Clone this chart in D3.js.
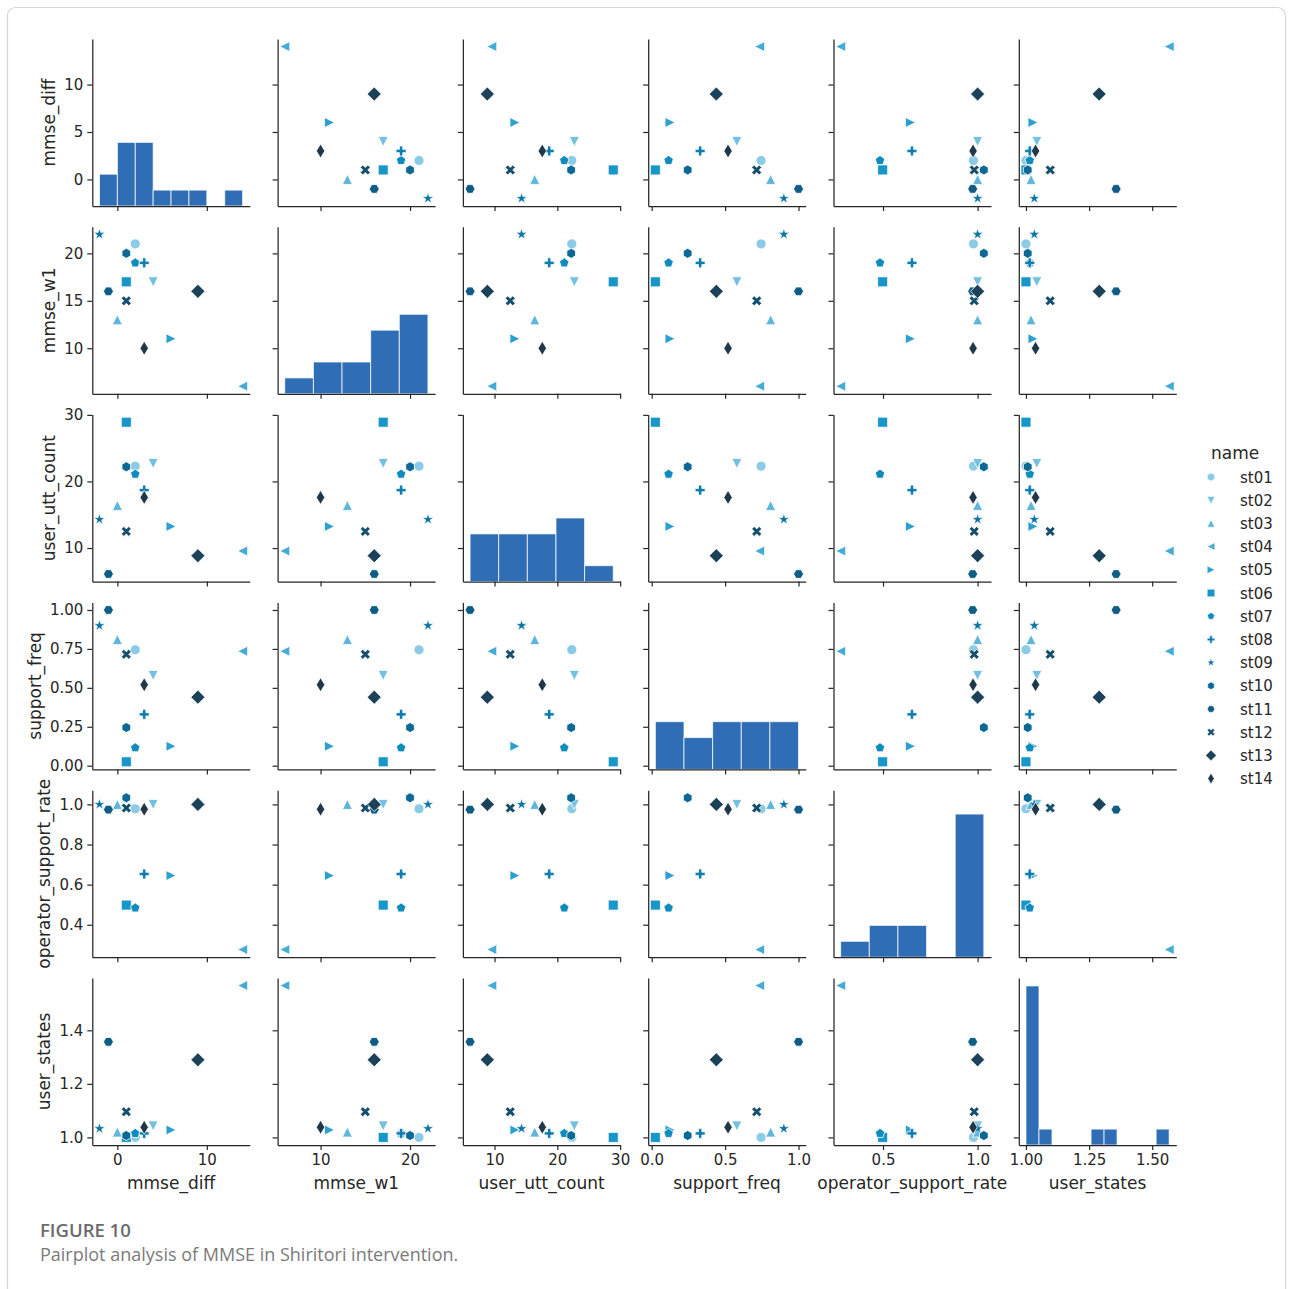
<!DOCTYPE html>
<html>
<head>
<meta charset="utf-8">
<script src="https://cdn.jsdelivr.net/npm/d3@7"></script>
<style>
  html, body { margin: 0; padding: 0; background: #ffffff; }
  svg { display: block; }
  .tick text { font-family: "DejaVu Sans", sans-serif; font-size: 15px; fill: #262626; }
  .tick line { stroke: #262626; stroke-width: 1.2; }
  .domain { stroke: #262626; stroke-width: 1.25; }
</style>
</head>
<body>
<svg id="chart" width="1293" height="1289"></svg>
<script>
// Participants (hue / style levels)
const names = ["st01", "st02", "st03", "st04", "st05", "st06", "st07",
               "st08", "st09", "st10", "st11", "st12", "st13", "st14"];

// Per-participant measures
const mmseDiff = [2, 4, 0, 14, 6, 1, 2, 3, -2, 1, -1, 1, 9, 3];
const mmseW1 = [21, 17, 13, 6, 11, 17, 19, 19, 22, 20, 16, 15, 16, 10];
const userUttCount = [22.3, 22.7, 16.4, 9.55, 13.25, 28.9, 21.1, 18.7, 14.3, 22.2, 6.1, 12.5, 8.85, 17.6];
const supportFreq = [0.745, 0.58, 0.81, 0.735, 0.125, 0.025, 0.115, 0.33, 0.90, 0.245, 1.0, 0.715, 0.44, 0.52];
const operatorSupportRate = [0.978, 1.0, 1.0, 0.276, 0.645, 0.498, 0.484, 0.653, 1.0, 1.033, 0.974, 0.982, 1.0, 0.976];
const userStates = [1.0, 1.043, 1.02, 1.567, 1.028, 1.0, 1.015, 1.015, 1.033, 1.007, 1.357, 1.096, 1.29, 1.038];

// Variable names, in grid order
const varNames = ["mmse_diff", "mmse_w1", "user_utt_count", "support_freq", "operator_support_rate", "user_states"];
const varValues = [mmseDiff, mmseW1, userUttCount, supportFreq, operatorSupportRate, userStates];

// Tick values and label decimals per variable (x axis along columns, y axis along rows)
const xTickValues = [[0, 10], [10, 20], [10, 20, 30], [0, 0.5, 1.0], [0.5, 1.0], [1.0, 1.25, 1.5]];
const xTickDecimals = [0, 0, 0, 1, 1, 2];
const yTickValues = [[0, 5, 10], [10, 15, 20], [10, 20, 30], [0, 0.25, 0.5, 0.75, 1.0], [0.4, 0.6, 0.8, 1.0], [1.0, 1.2, 1.4]];
const yTickDecimals = [0, 0, 0, 2, 1, 1];

// Histogram bin counts on the diagonal
const histBins = [8, 5, 5, 5, 5, 11];

// Hue palette, light to dark, and marker styles per participant
const palette = ["#8ccbe6", "#73c0e1", "#5fb6dc", "#44aad6", "#2a9fd0", "#1696c9", "#0f8bbd",
                 "#0c7fb0", "#0b74a3", "#0c6895", "#0f5c84", "#174e6c", "#1c4259", "#1f3748"];
const markers = ["o", "v", "^", "<", ">", "s", "p", "P", "*", "h", "H", "X", "D", "d"];

const histColor = "#2f6db4";

// Grid geometry
const left0 = 92.3, colPitch = 185.3, panelW = 157.5;
const bottom0 = 206, rowPitch = 187.8, panelH = 167;
const nVar = varNames.length;

const svg = d3.select("#chart");

// Frame around the figure
svg.append("rect")
  .attr("x", 7.5).attr("y", 7.5).attr("width", 1278).attr("height", 1320)
  .attr("rx", 8).attr("fill", "none").attr("stroke", "#d6d6d6").attr("stroke-width", 1.2);

// Padded domain, like matplotlib autoscale with 5% margins
function padded(vals) {
  const [lo, hi] = d3.extent(vals);
  const m = (hi - lo) * 0.05;
  return [lo - m, hi + m];
}

const xScales = varValues.map((v, j) =>
  d3.scaleLinear().domain(padded(v)).range([left0 + j * colPitch, left0 + j * colPitch + panelW]));
const yScales = varValues.map((v, i) =>
  d3.scaleLinear().domain(padded(v)).range([bottom0 + i * rowPitch, bottom0 + i * rowPitch - panelH]));

// Marker shapes in unit size (matplotlib conventions), returned as SVG path data
function polyPath(pts) {
  return "M" + pts.map(p => p[0].toFixed(3) + "," + p[1].toFixed(3)).join("L") + "Z";
}
function regularPolygon(n, r, rot) {
  const pts = [];
  for (let k = 0; k < n; k++) {
    const a = Math.PI / 2 + rot + 2 * Math.PI * k / n;
    pts.push([r * Math.cos(a), -r * Math.sin(a)]);
  }
  return pts;
}
function starPoints(r) {
  const pts = [];
  for (let k = 0; k < 10; k++) {
    const a = Math.PI / 2 + Math.PI * k / 5;
    const rr = k % 2 === 0 ? r : r * 0.381966;
    pts.push([rr * Math.cos(a), -rr * Math.sin(a)]);
  }
  return pts;
}
function markerPath(code, m) {
  const h = m / 2;
  switch (code) {
    case "o": return `M${h},0A${h},${h} 0 1,1 ${-h},0A${h},${h} 0 1,1 ${h},0Z`;
    case "v": return polyPath([[0, h], [-h, -h], [h, -h]]);
    case "^": return polyPath([[0, -h], [-h, h], [h, h]]);
    case "<": return polyPath([[-h, 0], [h, -h], [h, h]]);
    case ">": return polyPath([[h, 0], [-h, -h], [-h, h]]);
    case "s": return polyPath([[-h, -h], [h, -h], [h, h], [-h, h]]);
    case "p": return polyPath(regularPolygon(5, h, 0));
    case "h": return polyPath(regularPolygon(6, h, 0));
    case "H": return polyPath(regularPolygon(6, h, Math.PI / 6));
    case "*": return polyPath(starPoints(h * 1.15));
    case "P": {
      const u = m / 6;
      return polyPath([[-1, -3], [-1, -1], [-3, -1], [-3, 1], [-1, 1], [-1, 3], [1, 3], [1, 1], [3, 1], [3, -1], [1, -1], [1, -3]]
        .map(p => [p[0] * u, p[1] * u]));
    }
    case "X": {
      const u = m / 4;
      return polyPath([[-1, -2], [0, -1], [1, -2], [2, -1], [1, 0], [2, 1], [1, 2], [0, 1], [-1, 2], [-2, 1], [-1, 0], [-2, -1]]
        .map(p => [p[0] * u, p[1] * u]));
    }
    case "D": { const d = m * Math.SQRT1_2; return polyPath([[0, -d], [d, 0], [0, d], [-d, 0]]); }
    case "d": { const d = m * Math.SQRT1_2; return polyPath([[0, -d], [0.6 * d, 0], [0, d], [-0.6 * d, 0]]); }
  }
  return "";
}

const markerSize = 10;
const rows = names.map((n, k) => ({ name: n, k }));

// Shared y scale of the diagonal histograms
const histograms = varValues.map((v, j) => {
  const [lo, hi] = d3.extent(v);
  const n = histBins[j];
  const edges = d3.range(1, n).map(q => lo + (hi - lo) * q / n);
  return d3.bin().domain([lo, hi]).thresholds(edges)(v);
});
const maxCount = d3.max(histograms, bins => d3.max(bins, b => b.length));

// Widest y tick label per row, used to place the row titles
const rowLabelWidth = new Array(nVar).fill(0);

for (let i = 0; i < nVar; i++) {
  for (let j = 0; j < nVar; j++) {
    const x = xScales[j], y = yScales[i];
    const g = svg.append("g");

    if (i === j) {
      const hy = d3.scaleLinear().domain([0, maxCount * 1.05]).range([y.range()[0], y.range()[1]]);
      g.selectAll("rect.bar")
        .data(histograms[j].filter(b => b.length > 0))
        .join("rect")
        .attr("class", "bar")
        .attr("x", b => x(b.x0))
        .attr("width", b => x(b.x1) - x(b.x0))
        .attr("y", b => hy(b.length))
        .attr("height", b => hy(0) - hy(b.length))
        .attr("fill", histColor)
        .attr("stroke", "#ffffff")
        .attr("stroke-opacity", 0.75)
        .attr("stroke-width", 1);
    } else {
      g.selectAll("path.pt")
        .data(rows)
        .join("path")
        .attr("class", "pt")
        .attr("transform", d => `translate(${x(varValues[j][d.k])},${y(varValues[i][d.k])})`)
        .attr("d", d => markerPath(markers[d.k], markerSize))
        .attr("fill", d => palette[d.k])
        .attr("stroke", "#ffffff")
        .attr("stroke-width", d => markers[d.k] === "*" ? 0.5 : 0.8);
    }

    // Bottom spine with ticks
    const xFmt = d3.format(`.${xTickDecimals[j]}f`);
    const xAxis = d3.axisBottom(x).tickValues(xTickValues[j]).tickSize(5).tickSizeOuter(0).tickPadding(4)
      .tickFormat(i === nVar - 1 ? xFmt : () => "");
    svg.append("g").attr("transform", `translate(0,${y.range()[0]})`).call(xAxis)
      .call(s => s.selectAll("text").attr("font-size", null).attr("font-family", null));

    // Left spine with ticks
    const yFmt = d3.format(`.${yTickDecimals[i]}f`);
    const yAxis = d3.axisLeft(y).tickValues(yTickValues[i]).tickSize(5).tickSizeOuter(0).tickPadding(4)
      .tickFormat(j === 0 ? yFmt : () => "");
    const ya = svg.append("g").attr("transform", `translate(${x.range()[0]},0)`).call(yAxis)
      .call(s => s.selectAll("text").attr("font-size", null).attr("font-family", null));
    if (j === 0) {
      ya.selectAll("text").each(function () {
        rowLabelWidth[i] = Math.max(rowLabelWidth[i], this.getComputedTextLength());
      });
    }
  }
}

// Axis titles
const labelStyle = s => s.attr("font-family", "DejaVu Sans, sans-serif").attr("font-size", 17).attr("fill", "#262626");
varNames.forEach((name, j) => {
  const [a, b] = xScales[j].range();
  svg.append("text").call(labelStyle)
    .attr("x", (a + b) / 2).attr("y", 1189).attr("text-anchor", "middle").text(name);
});
varNames.forEach((name, i) => {
  const [a, b] = yScales[i].range();
  // right edge of the title sits a small gap left of the widest tick label
  const right = left0 - 5 - 4 - rowLabelWidth[i] - 5;
  const baseX = right - 4;
  svg.append("text").call(labelStyle)
    .attr("text-anchor", "middle")
    .attr("transform", `translate(${baseX},${(a + b) / 2}) rotate(-90)`)
    .text(name);
});

// Legend
const legend = svg.append("g");
legend.append("text").call(labelStyle).attr("x", 1211).attr("y", 459).text("name");
const legendRow = legend.selectAll("g.item").data(rows).join("g")
  .attr("class", "item")
  .attr("transform", d => `translate(1211,${477 + d.k * 23.2})`);
legendRow.append("path")
  .attr("d", d => markerPath(markers[d.k], 7.5))
  .attr("fill", d => palette[d.k])
  .attr("stroke", "#ffffff").attr("stroke-width", 0.5);
legendRow.append("text")
  .attr("x", 29).attr("y", 5.5)
  .attr("font-family", "DejaVu Sans, sans-serif").attr("font-size", 15).attr("fill", "#262626")
  .text(d => d.name);

// Caption
svg.append("text")
  .attr("x", 40).attr("y", 1237)
  .attr("font-family", "Open Sans, sans-serif").attr("font-size", 18.5).attr("font-weight", 600)
  .attr("fill", "#6b6b6b")
  .text("FIGURE 10");
svg.append("text")
  .attr("x", 40).attr("y", 1261)
  .attr("font-family", "Open Sans, sans-serif").attr("font-size", 18)
  .attr("fill", "#7b7b7b")
  .text("Pairplot analysis of MMSE in Shiritori intervention.");
</script>
</body>
</html>
